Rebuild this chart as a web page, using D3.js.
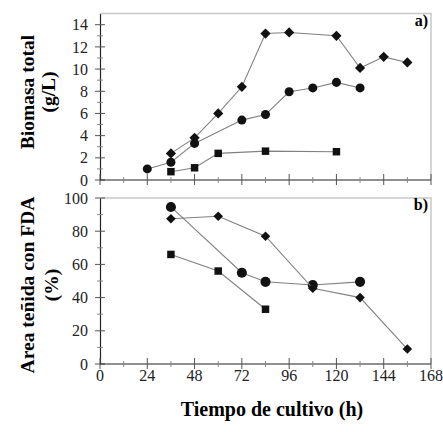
<!DOCTYPE html>
<html>
<head>
	<meta charset="utf-8">
	<title>Biomasa y FDA</title>
	<style type="text/css">
		body { margin: 0; background: #fff; }
		svg { display: block; }
		text { font-family: 'Liberation Serif', serif; }
	</style>
	<script src="https://d3js.org/d3.v7.min.js"></script>
</head>
<body>
	<svg width="443" height="432"></svg>
	<script type="text/javascript">
		// data (hours vs value)
		var bioDiamondX = [36, 48, 60, 72, 84, 96, 120, 132, 144, 156];
		var bioDiamondY = [2.4, 3.8, 6.0, 8.4, 13.2, 13.3, 13.0, 10.1, 11.1, 10.6];
		var bioCircleX = [24, 36, 48, 72, 84, 96, 108, 120, 132];
		var bioCircleY = [1.0, 1.6, 3.3, 5.4, 5.9, 7.95, 8.3, 8.8, 8.3];
		var bioSquareX = [36, 48, 60, 84, 120];
		var bioSquareY = [0.75, 1.1, 2.4, 2.6, 2.55];

		var fdaCircleX = [36, 72, 84, 108, 132];
		var fdaCircleY = [94.6, 55, 49.5, 47.6, 49.5];
		var fdaDiamondX = [36, 60, 84, 108, 132, 156];
		var fdaDiamondY = [87.5, 89, 77, 45.6, 40, 9];
		var fdaSquareX = [36, 60, 84];
		var fdaSquareY = [66, 56, 33];

		var xTicks = [0, 24, 48, 72, 96, 120, 144, 168];
		var bioTicks = [0, 2, 4, 6, 8, 10, 12, 14];
		var fdaTicks = [0, 20, 40, 60, 80, 100];

		var FONT = "'Liberation Serif', serif";
		var svg = d3.select('svg');
		var x = d3.scaleLinear().domain([0, 168]).range([100, 431]);
		var yTop = d3.scaleLinear().domain([0, 15]).range([180, 13.6]);
		var yBot = d3.scaleLinear().domain([0, 100]).range([364, 198]);

		var line = d3.line();

		function zip(xs, ys) {
			return xs.map((d, i) => [d, ys[i]]);
		}

		function panel(y, yTicks, yMinor, yMax, label) {
			var g = svg.append('g');
			// light frame top/right
			g.append('path')
				.attr('d', 'M' + x(0) + ',' + y(yMax) + 'H' + x(168) + 'V' + y(0))
				.attr('fill', 'none')
				.attr('stroke', '#c8c8c8')
				.attr('stroke-width', 1.5);

			var yAxis = d3.axisLeft(y).tickValues(yTicks).tickSize(0).tickPadding(12);
			var ya = g.append('g').attr('transform', 'translate(' + x(0) + ',0)').call(yAxis);
			ya.attr('font-family', FONT);
			ya.select('.domain').attr('stroke', '#222').attr('stroke-width', 1.2);
			ya.selectAll('text').attr('font-size', 16).attr('fill', '#222');

			// ticks crossing the axis
			g.selectAll('.ymaj').data(yTicks).enter().append('line')
				.attr('x1', x(0) - 5).attr('x2', x(0) + 5)
				.attr('y1', d => y(d)).attr('y2', d => y(d))
				.attr('stroke', '#555');
			g.selectAll('.ymin').data(yMinor).enter().append('line')
				.attr('x1', x(0) - 3).attr('x2', x(0) + 3)
				.attr('y1', d => y(d)).attr('y2', d => y(d))
				.attr('stroke', '#888');

			g.append('line')
				.attr('x1', x(0)).attr('x2', x(168))
				.attr('y1', y(0)).attr('y2', y(0))
				.attr('stroke', '#222').attr('stroke-width', 1.2);
			var xMinor = d3.range(12, 168, 24);
			g.selectAll('.xmaj').data(xTicks).enter().append('line')
				.attr('x1', d => x(d)).attr('x2', d => x(d))
				.attr('y1', y(0) - 6).attr('y2', y(0) + 5)
				.attr('stroke', '#555');
			g.selectAll('.xmin').data(xMinor).enter().append('line')
				.attr('x1', d => x(d)).attr('x2', d => x(d))
				.attr('y1', y(0) - 3).attr('y2', y(0) + 3)
				.attr('stroke', '#888');

			g.append('text')
				.attr('x', 428).attr('y', y(yMax) + 12)
				.attr('text-anchor', 'end')
				.attr('font-family', FONT)
				.attr('font-weight', 'bold')
				.attr('font-size', 16)
				.text(label);
			return g;
		}

		function series(g, y, xs, ys, sym, size, rot) {
			var pts = zip(xs, ys);
			g.append('path')
				.attr('d', line(pts.map(p => [x(p[0]), y(p[1])])))
				.attr('fill', 'none')
				.attr('stroke', '#808080')
				.attr('stroke-width', 1.1);
			g.selectAll(null).data(pts).enter().append('path')
				.attr('transform', p => 'translate(' + x(p[0]) + ',' + y(p[1]) + ') rotate(' + rot + ')')
				.attr('d', d3.symbol().type(sym).size(size))
				.attr('fill', '#111');
		}

		var topPanel = panel(yTop, bioTicks, d3.range(1, 15, 2), 15, 'a)');
		series(topPanel, yTop, bioSquareX, bioSquareY, d3.symbolSquare, 56, 0);
		series(topPanel, yTop, bioCircleX, bioCircleY, d3.symbolCircle, 64, 0);
		series(topPanel, yTop, bioDiamondX, bioDiamondY, d3.symbolSquare, 52, 45);

		var botPanel = panel(yBot, fdaTicks, d3.range(10, 100, 20), 100, 'b)');
		series(botPanel, yBot, fdaSquareX, fdaSquareY, d3.symbolSquare, 56, 0);
		series(botPanel, yBot, fdaCircleX, fdaCircleY, d3.symbolCircle, 80, 0);
		series(botPanel, yBot, fdaDiamondX, fdaDiamondY, d3.symbolSquare, 46, 45);

		// x tick labels on bottom panel
		svg.selectAll('.xl').data(xTicks).enter().append('text')
			.attr('x', d => x(d)).attr('y', 381)
			.attr('text-anchor', 'middle')
			.attr('font-family', FONT)
			.attr('font-size', 16)
			.attr('fill', '#222')
			.text(d => d);

		svg.append('text')
			.attr('x', 272).attr('y', 416)
			.attr('text-anchor', 'middle')
			.attr('font-family', FONT)
			.attr('font-weight', 'bold').attr('font-size', 20)
			.text('Tiempo de cultivo (h)');

		function yTitle(cy, lines, xs) {
			lines.forEach((t, i) => {
				svg.append('text')
					.attr('transform', 'translate(' + xs[i] + ',' + cy + ') rotate(-90)')
					.attr('text-anchor', 'middle')
					.attr('dominant-baseline', 'central')
					.attr('font-family', FONT)
					.attr('font-weight', 'bold').attr('font-size', 19.5)
					.text(t);
			});
		}
		yTitle(92, ['Biomasa total', '(g/L)'], [27, 48]);
		yTitle(285, ['Area teñida con FDA', '(%)'], [27, 51]);
	</script>
</body>
</html>
